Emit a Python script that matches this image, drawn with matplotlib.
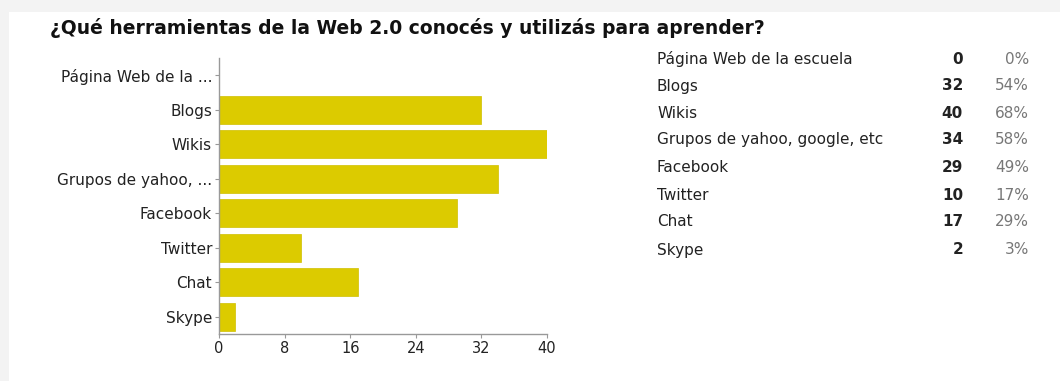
import matplotlib
matplotlib.use("Agg")
import matplotlib.pyplot as plt
from matplotlib.patches import Rectangle

categories = ["Página Web de la escuela", "Blogs", "Wikis", "Grupos de yahoo, google, etc",
              "Facebook", "Twitter", "Chat", "Skype"]
tick_labels = ["Página Web de la ...", "Blogs", "Wikis", "Grupos de yahoo, ...",
               "Facebook", "Twitter", "Chat", "Skype"]
counts = [0, 32, 40, 34, 29, 10, 17, 2]
percents = ["0%", "54%", "68%", "58%", "49%", "17%", "29%", "3%"]
xticks = [0, 8, 16, 24, 32, 40]
title = "¿Qué herramientas de la Web 2.0 conocés y utilizás para aprender?"

plt.rcParams['font.family'] = ['DejaVu Sans']

W, H = 1060, 381
fig = plt.figure(figsize=(W / 100, H / 100), dpi=100, facecolor="#f3f3f3")
fig.patches.append(Rectangle((9 / W, 0), 1, 1 - 12 / H, transform=fig.transFigure,
                             facecolor="white", edgecolor="none", zorder=-10))

ax = fig.add_axes([219 / W, 1 - 334 / H, (547 - 219) / W, (334 - 58) / H], zorder=2)
ax.set_facecolor("none")
y = list(range(len(categories)))
ax.barh(y, counts, height=0.8, color="#dccb00", edgecolor="#cfbf00", linewidth=0.5)
ax.set_ylim(len(categories) - 0.5, -0.5)
ax.set_xlim(0, 40)
ax.set_yticks(y)
ax.set_yticklabels(tick_labels, fontsize=11, color="#222222")
ax.set_xticks(xticks)
ax.set_xticklabels([str(t) for t in xticks], fontsize=10.5, color="#222222")
for s in ["top", "right"]:
    ax.spines[s].set_visible(False)
for s in ["left", "bottom"]:
    ax.spines[s].set_color("#999999")
    ax.spines[s].set_linewidth(1)
ax.tick_params(axis="both", length=3, color="#999999", pad=2)

fig.text(50 / W, 1 - 28 / H, title, fontsize=13.5, fontweight="bold", color="#111111",
         va="center", ha="left")

row_y = [59, 86, 113, 140, 168, 195, 222, 250]
for ry, c, n, p in zip(row_y, categories, counts, percents):
    fy = 1 - ry / H
    fig.text(657 / W, fy, c, fontsize=11, color="#222222", va="center", ha="left")
    fig.text(963 / W, fy, str(n), fontsize=11, fontweight="bold", color="#222222",
             va="center", ha="right")
    fig.text(1029 / W, fy, p, fontsize=11, color="#777777", va="center", ha="right")

fig.savefig("out.png", dpi=100, facecolor=fig.get_facecolor())
